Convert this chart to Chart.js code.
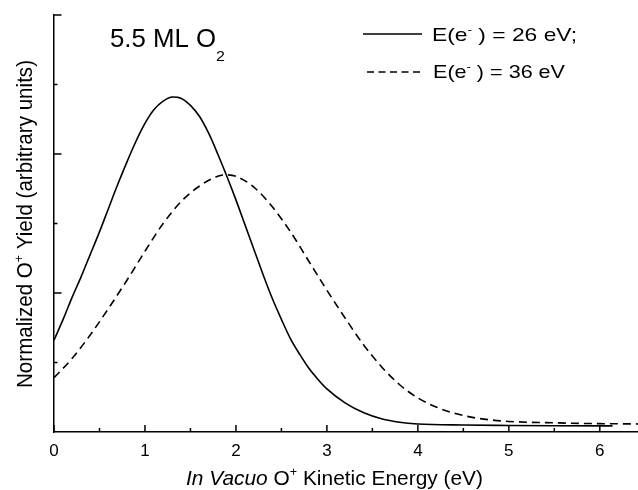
<!DOCTYPE html>
<html>
<head>
<meta charset="utf-8">
<script src="https://cdn.jsdelivr.net/npm/chart.js@4.4.0/dist/chart.umd.min.js"></script>
<style>
  html, body { margin: 0; padding: 0; background: #fff; }
</style>
</head>
<body>
<canvas id="yield" width="638" height="490"></canvas>
<script>
// O+ yield vs kinetic energy (arbitrary units)
var energy26 = [0, 0.1, 0.2, 0.3, 0.4, 0.5, 0.6, 0.7, 0.8, 0.9, 1.0, 1.1, 1.2, 1.3, 1.4, 1.5, 1.6, 1.7, 1.8, 1.9,
                2.0, 2.1, 2.2, 2.3, 2.4, 2.5, 2.6, 2.7, 2.8, 2.9, 3.0, 3.2, 3.4, 3.6, 3.8, 4.0, 4.5, 5.0, 5.5, 6.14];
var yield26  = [0.66, 0.81, 0.97, 1.12, 1.28, 1.44, 1.61, 1.78, 1.94, 2.09, 2.22, 2.32, 2.38, 2.41, 2.40, 2.35, 2.27, 2.15, 2.00, 1.84,
                1.67, 1.49, 1.31, 1.13, 0.96, 0.81, 0.67, 0.56, 0.46, 0.38, 0.31, 0.21, 0.14, 0.095, 0.07, 0.058, 0.05, 0.047, 0.045, 0.044];

var energy36 = [0, 0.2, 0.4, 0.6, 0.8, 1.0, 1.2, 1.4, 1.6, 1.8, 1.9, 2.0, 2.2, 2.4, 2.6, 2.8, 3.0, 3.2, 3.4, 3.6,
                3.8, 4.0, 4.2, 4.4, 4.6, 4.8, 5.0, 5.5, 6.0, 6.42];
var yield36  = [0.39, 0.53, 0.70, 0.89, 1.09, 1.30, 1.50, 1.66, 1.77, 1.84, 1.85, 1.84, 1.76, 1.62, 1.44, 1.23, 1.02, 0.82, 0.63, 0.47,
                0.34, 0.245, 0.18, 0.135, 0.105, 0.087, 0.076, 0.066, 0.06, 0.058];

var seriesLabels = ['E(e\u207B) = 26 eV;', 'E(e\u207B) = 36 eV'];

var xMajor = [0, 1, 2, 3, 4, 5, 6];
var xMinor = [0.5, 1.5, 2.5, 3.5, 4.5, 5.5];
var yMajor = [1, 2, 3];
var yMinor = [0.5, 1.5, 2.5];

var FONT = "'Liberation Sans', Arial, sans-serif";

function toPoints(xs, ys) {
  return xs.map(function (x, i) { return { x: x, y: ys[i] }; });
}

// parts: [text, style] with style '', 'i', 'sup', 'sub'
function partFont(style, size) {
  if (style === 'sup') return { f: (size * 0.6) + 'px ' + FONT, dy: -size * 0.42 };
  if (style === 'sub') return { f: (size * 0.62) + 'px ' + FONT, dy: size * 0.56 };
  if (style === 'i') return { f: 'italic ' + size + 'px ' + FONT, dy: 0 };
  return { f: size + 'px ' + FONT, dy: 0 };
}

function richWidth(ctx, parts, size) {
  var w = 0;
  parts.forEach(function (p) {
    ctx.font = partFont(p[1], size).f;
    w += ctx.measureText(p[0]).width;
  });
  return w;
}

function drawRich(ctx, parts, x, y, size, fitWidth) {
  var w = richWidth(ctx, parts, size);
  var sx = fitWidth ? fitWidth / w : 1;
  ctx.save();
  ctx.translate(x, y);
  ctx.scale(sx, 1);
  ctx.textBaseline = 'alphabetic';
  ctx.textAlign = 'left';
  ctx.fillStyle = '#000';
  var cx = 0;
  parts.forEach(function (p) {
    var pf = partFont(p[1], size);
    ctx.font = pf.f;
    ctx.fillText(p[0], cx, pf.dy);
    cx += ctx.measureText(p[0]).width;
  });
  ctx.restore();
}

var decorPlugin = {
  id: 'decor',
  afterDraw: function (chart) {
    var ctx = chart.ctx;
    var xs = chart.scales.x, ys = chart.scales.y;
    var area = chart.chartArea;

    // inward tick marks
    ctx.save();
    ctx.strokeStyle = '#000';
    ctx.lineWidth = 1.5;
    ctx.beginPath();
    xMajor.forEach(function (v) { var p = xs.getPixelForValue(v); ctx.moveTo(p, area.bottom); ctx.lineTo(p, area.bottom - 7); });
    xMinor.forEach(function (v) { var p = xs.getPixelForValue(v); ctx.moveTo(p, area.bottom); ctx.lineTo(p, area.bottom - 4); });
    yMajor.forEach(function (v) { var p = ys.getPixelForValue(v); ctx.moveTo(area.left, p); ctx.lineTo(area.left + 7.5, p); });
    yMinor.forEach(function (v) { var p = ys.getPixelForValue(v); ctx.moveTo(area.left, p); ctx.lineTo(area.left + 3.5, p); });
    ctx.stroke();

    // legend samples
    ctx.beginPath();
    ctx.setLineDash([]);
    ctx.moveTo(363, 34); ctx.lineTo(422, 34);
    ctx.stroke();
    ctx.beginPath();
    ctx.setLineDash([7, 4.5]);
    ctx.moveTo(367, 72); ctx.lineTo(421, 72);
    ctx.stroke();
    ctx.restore();

    drawRich(ctx, [['E(e', ''], ['-', 'sup'], [' ) = 26 eV;', '']], 432, 41, 19, 145);
    drawRich(ctx, [['E(e', ''], ['-', 'sup'], [' ) = 36 eV', '']], 433, 78, 19, 132);

    // panel title
    drawRich(ctx, [['5.5 ML O', ''], ['2', 'sub']], 110, 47, 25, 115);

    // x axis title
    var xt = [['In Vacuo', 'i'], [' O', ''], ['+', 'sup'], [' Kinetic Energy (eV)', '']];
    drawRich(ctx, xt, 186, 485, 21, 297);

    // y axis title
    var yt = [['Normalized O', ''], ['+', 'sup'], [' Yield (arbitrary units)', '']];
    ctx.save();
    ctx.translate(32, 224);
    ctx.rotate(-Math.PI / 2);
    drawRich(ctx, yt, -164, 0, 22, 328);
    ctx.restore();
  }
};

new Chart(document.getElementById('yield'), {
  type: 'scatter',
  data: {
    datasets: [{
      label: seriesLabels[0],
      data: toPoints(energy26, yield26),
      showLine: true,
      borderColor: '#000',
      borderWidth: 1.6,
      pointRadius: 0,
      cubicInterpolationMode: 'monotone'
    }, {
      label: seriesLabels[1],
      data: toPoints(energy36, yield36),
      showLine: true,
      borderColor: '#000',
      borderWidth: 1.6,
      borderDash: [8, 5],
      pointRadius: 0,
      cubicInterpolationMode: 'monotone'
    }]
  },
  options: {
    responsive: false,
    animation: false,
    layout: { padding: { top: 15, left: 0, right: 0, bottom: 0 } },
    plugins: {
      legend: { display: false },
      tooltip: { enabled: false }
    },
    scales: {
      x: {
        type: 'linear',
        min: 0,
        max: 6.42,
        afterFit: function (scale) { scale.height = 58; },
        grid: { display: false, drawTicks: false },
        border: { display: true, color: '#000', width: 1.5 },
        ticks: {
          stepSize: 1,
          includeBounds: false,
          padding: 9,
          color: '#000',
          font: { family: FONT, size: 17 },
          callback: function (v) { return Number.isInteger(v) ? v : ''; }
        }
      },
      y: {
        min: 0,
        max: 3,
        afterFit: function (scale) { scale.width = 54; },
        grid: { display: false, drawTicks: false },
        border: { display: true, color: '#000', width: 1.5 },
        ticks: { display: false }
      }
    }
  },
  plugins: [decorPlugin]
});
</script>
</body>
</html>
